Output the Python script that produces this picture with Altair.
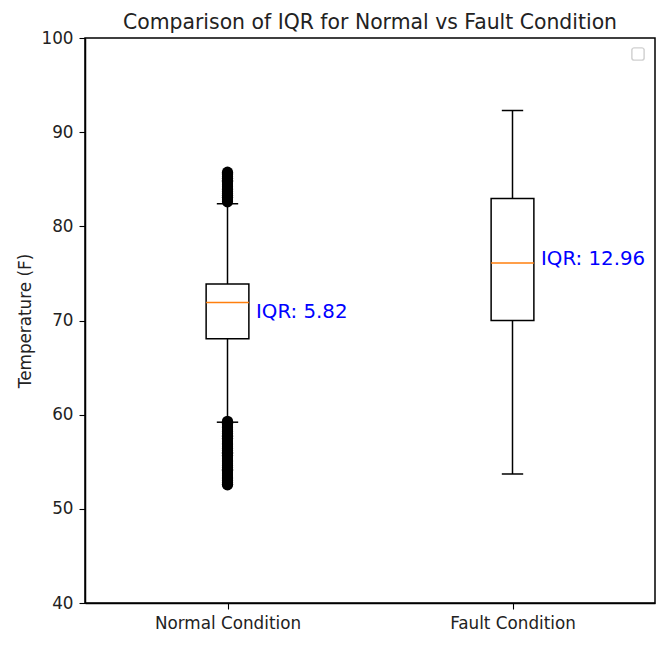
import altair as alt
import pandas as pd

# ---- data ----
categories = ["Normal Condition", "Fault Condition"]
positions = [1, 2]
q1 = [68.05, 70.00]
median = [71.90, 76.10]
q3 = [73.87, 82.96]
whisk_lo = [59.2, 53.7]
whisk_hi = [82.4, 92.3]
iqr_text = ["IQR: 5.82", "IQR: 12.96"]
iqr_text_y = [70.9, 76.55]

# outliers (Normal Condition only), read as a dense cloud
normal_out_hi = [82.6, 82.8, 83.0, 83.1, 83.3, 83.5, 83.7, 83.9, 84.0, 84.2,
                 84.4, 84.6, 84.8, 84.9, 85.1, 85.3, 85.5, 85.6, 85.75]
normal_out_lo = [59.3, 59.1, 58.9, 58.7, 58.6, 58.4, 58.2, 58.0, 57.8, 57.7,
                 57.5, 57.3, 57.1, 56.9, 56.8, 56.6, 56.4, 56.2, 56.0, 55.9,
                 55.7, 55.5, 55.3, 55.1, 55.0, 54.8, 54.6, 54.4, 54.2, 54.1,
                 53.9, 53.7, 53.5, 53.3, 53.2, 53.0, 52.8, 52.6, 52.55]

stats = pd.DataFrame({
    "cat": categories, "pos": positions, "q1": q1, "median": median, "q3": q3,
    "lo": whisk_lo, "hi": whisk_hi, "label": iqr_text, "ty": iqr_text_y,
})
outs = pd.DataFrame({
    "pos": [1] * (len(normal_out_hi) + len(normal_out_lo)),
    "value": normal_out_hi + normal_out_lo,
})

FONT = "DejaVu Sans"
LW = 1.5
xscale = alt.Scale(domain=[0.5, 2.5], nice=False, zero=False)
yscale = alt.Scale(domain=[40, 100], nice=False, zero=False)

xaxis = alt.Axis(values=[1, 2], title=None, grid=False,
                 labelExpr="datum.value == 1 ? 'Normal Condition' : 'Fault Condition'",
                 labelFontSize=16.8, labelFont=FONT, labelColor="#222",
                 tickSize=6, labelPadding=6, domainColor="black", tickColor="black",
                 domainWidth=LW, tickWidth=1.1)
yaxis = alt.Axis(values=[40, 50, 60, 70, 80, 90, 100], title="Temperature (F)", grid=False,
                 labelFontSize=16.8, labelFont=FONT, labelColor="#222",
                 titleFontSize=16.8, titleFont=FONT, titleFontWeight="normal",
                 titleColor="#222", titlePadding=6,
                 tickSize=6, labelPadding=6, domainColor="black", tickColor="black",
                 domainWidth=LW, tickWidth=1.1)

base = alt.Chart(stats)

whisk_up = base.mark_rule(color="black", strokeWidth=LW).encode(
    x=alt.X("pos:Q", scale=xscale, axis=xaxis),
    y=alt.Y("q3:Q", scale=yscale, axis=yaxis),
    y2="hi:Q",
)
whisk_dn = base.mark_rule(color="black", strokeWidth=LW).encode(
    x="pos:Q", y="lo:Q", y2="q1:Q",
)
caps_hi = base.transform_calculate(a="datum.pos - 0.0375", b="datum.pos + 0.0375").mark_rule(
    color="black", strokeWidth=LW).encode(x="a:Q", x2="b:Q", y="hi:Q")
caps_lo = base.transform_calculate(a="datum.pos - 0.0375", b="datum.pos + 0.0375").mark_rule(
    color="black", strokeWidth=LW).encode(x="a:Q", x2="b:Q", y="lo:Q")
box = base.transform_calculate(a="datum.pos - 0.075", b="datum.pos + 0.075").mark_rect(
    fill="white", stroke="black", strokeWidth=LW).encode(x="a:Q", x2="b:Q", y="q1:Q", y2="q3:Q")
med = base.transform_calculate(a="datum.pos - 0.075", b="datum.pos + 0.075").mark_rule(
    color="#ff7f0e", strokeWidth=LW).encode(x="a:Q", x2="b:Q", y="median:Q")
fliers = alt.Chart(outs).mark_circle(color="black", size=125, opacity=1).encode(
    x="pos:Q", y="value:Q")
labels = base.transform_calculate(tx="datum.pos + 0.1").mark_text(
    align="left", baseline="middle", color="blue", fontSize=19.8, font=FONT).encode(
    x="tx:Q", y="ty:Q", text="label:N")
legend_box = alt.Chart(stats).mark_rect(
    fill="white", stroke="#d0d0d0", strokeWidth=1.2, cornerRadius=2).encode(
    x=alt.value(547), x2=alt.value(559), y=alt.value(10), y2=alt.value(22))

chart = alt.layer(whisk_up, whisk_dn, caps_hi, caps_lo, box, med, fliers, labels, legend_box).properties(
    width=570, height=565,
    title=alt.Title("Comparison of IQR for Normal vs Fault Condition", fontSize=20.4,
                    font=FONT, fontWeight="normal", color="#222", anchor="middle",
                    baseline="alphabetic", offset=2, dy=21),
    padding={"left": 77, "top": 30, "right": 5, "bottom": 45},
    autosize=alt.AutoSizeParams(type="none"),
    background="white",
).configure_view(stroke="black", strokeWidth=LW)

chart.save("out.html", embed_options={"renderer": "svg", "actions": False})
